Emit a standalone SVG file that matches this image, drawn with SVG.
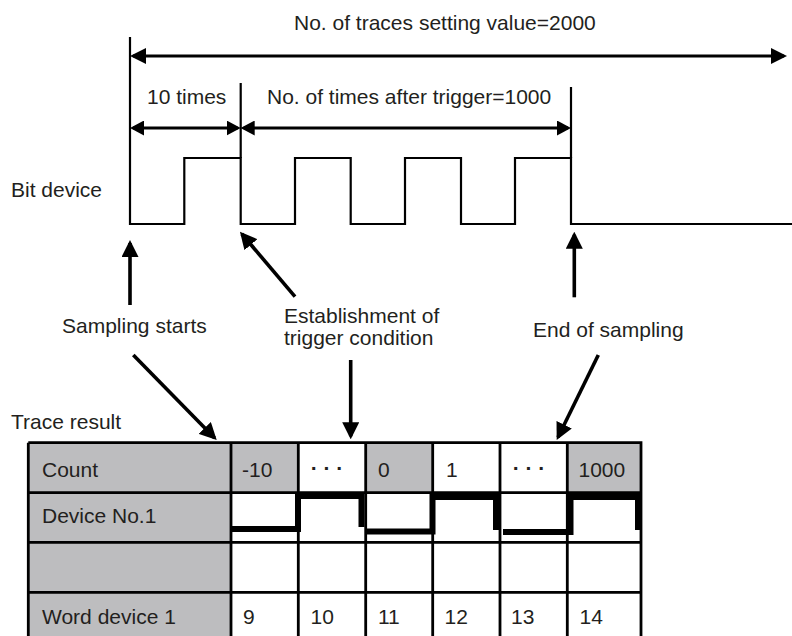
<svg xmlns="http://www.w3.org/2000/svg" width="792" height="636" viewBox="0 0 792 636">
<style>
text{font-family:"Liberation Sans",Arial,Helvetica,sans-serif;font-size:21px;fill:#231f20}
.mid{text-anchor:middle}
.wave{fill:none;stroke:#000;stroke-width:2.2;stroke-linejoin:miter}
.dim{fill:none;stroke:#000;stroke-width:3}
.ann{fill:none;stroke:#000;stroke-width:3.6}
.grid{fill:none;stroke:#000;stroke-width:2.8}
.grey{fill:#bdbdbf}
.sig{fill:none;stroke:#000;stroke-width:6;stroke-linejoin:miter}
.dots{font-weight:bold}
</style>
<defs>
<marker id="ah" viewBox="0 0 16 16" refX="13" refY="8" markerWidth="16" markerHeight="16" markerUnits="userSpaceOnUse" orient="auto-start-reverse"><path d="M0,0 L16,8 L0,16 z" fill="#000"/></marker>
<marker id="ahs" viewBox="0 0 14 15" refX="11" refY="7.5" markerWidth="14" markerHeight="15" markerUnits="userSpaceOnUse" orient="auto-start-reverse"><path d="M0,0 L14,7.5 L0,15 z" fill="#000"/></marker>
<marker id="ahb" viewBox="0 0 17 17" refX="14" refY="8.5" markerWidth="17" markerHeight="17" markerUnits="userSpaceOnUse" orient="auto"><path d="M0,0 L17,8.5 L0,17 z" fill="#000"/></marker>
</defs>

<g id="labels">
<text x="294" y="30">No. of traces setting value=2000</text>
<text x="147" y="104">10 times</text>
<text x="267" y="104">No. of times after trigger=1000</text>
<text x="11" y="196.5">Bit device</text>
<text x="62" y="333">Sampling starts</text>
<text x="284" y="322.5">Establishment of</text>
<text x="284" y="345">trigger condition</text>
<text x="533" y="336.5">End of sampling</text>
<text x="11" y="429">Trace result</text>
</g>

<g id="bit-device-waveform">
<path class="wave" d="M130,37 V224 H184.3 V158 H240.7 V224 H295 V158 H350.7 V224 H405 V158 H461 V224 H515 V158 H571 V224 H792"/>
<path class="wave" d="M240.7,83 V158 M571,87 V158"/>
</g>

<g id="connectors">
<line class="dim" x1="133" y1="56" x2="784" y2="56" marker-start="url(#ah)" marker-end="url(#ah)"/>
<line class="dim" x1="133" y1="128" x2="237.7" y2="128" marker-start="url(#ahs)" marker-end="url(#ahs)"/>
<line class="dim" x1="243.7" y1="128" x2="568" y2="128" marker-start="url(#ahs)" marker-end="url(#ahs)"/>
<line class="ann" x1="130" y1="305" x2="130" y2="243" marker-end="url(#ahb)"/>
<line class="ann" x1="295" y1="296.7" x2="241.9" y2="234" marker-end="url(#ahb)"/>
<line class="ann" x1="574.3" y1="297.3" x2="574.3" y2="234.7" marker-end="url(#ahb)"/>
<line class="ann" x1="133.3" y1="355" x2="214.6" y2="437.9" marker-end="url(#ahb)"/>
<line class="ann" x1="350.7" y1="360" x2="350.7" y2="436.3" marker-end="url(#ahb)"/>
<line class="ann" x1="598.3" y1="355" x2="558" y2="437.3" marker-end="url(#ahb)"/>
</g>

<g id="trace-result-table">
<rect class="grey" x="28.3" y="442.7" width="202.7" height="200"/>
<rect class="grey" x="231" y="442.7" width="67.3" height="50"/>
<rect class="grey" x="365.7" y="442.7" width="67" height="50"/>
<rect class="grey" x="567.3" y="442.7" width="73.7" height="50"/>
<path class="grid" d="M28.3,442.7 H641 V645 M28.3,442.7 V645 M28.3,492.7 H641 M28.3,542.3 H641 M28.3,592.3 H641 M231,442.7 V645 M298.3,442.7 V645 M365.7,442.7 V645 M432.7,442.7 V645 M500,442.7 V645 M567.3,442.7 V645"/>
<path class="sig" d="M231,529 H298 V496 H361.5 V527"/>
<path class="sig" d="M367,531.5 H432.5 V497 H496 V530"/>
<path class="sig" d="M503,532 H570.5 V497 H638 V530"/>
<text x="42" y="476.5">Count</text>
<text x="42" y="523">Device No.1</text>
<text x="42" y="623.5">Word device 1</text>
<text x="242" y="476.5">-10</text>
<text class="mid dots" x="327" y="475">· · ·</text>
<text x="378" y="476.5">0</text>
<text x="446" y="476.5">1</text>
<text class="mid dots" x="529" y="475">· · ·</text>
<text x="578.5" y="476.5">1000</text>
<text x="243" y="624">9</text>
<text x="310.5" y="624">10</text>
<text x="378" y="624">11</text>
<text x="444.5" y="624">12</text>
<text x="511" y="624">13</text>
<text x="579.5" y="624">14</text>
</g>
</svg>
